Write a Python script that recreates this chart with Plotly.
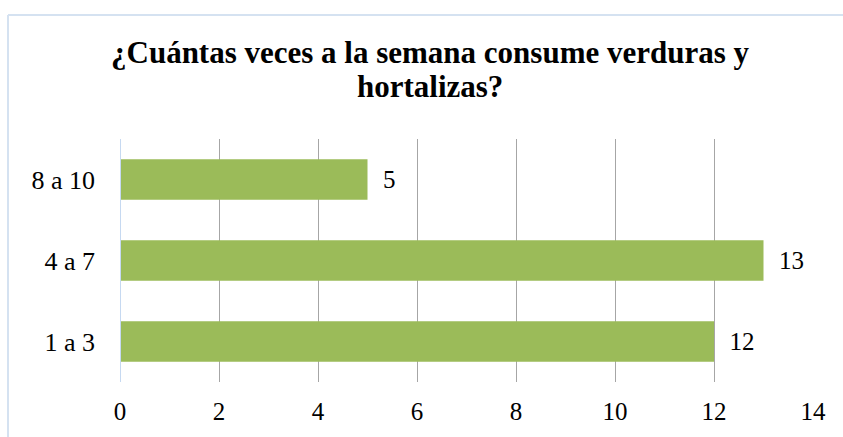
import plotly.graph_objects as go

categories = ['1 a 3', '4 a 7', '8 a 10']
values = [12, 13, 5]
x_ticks = [0, 2, 4, 6, 8, 10, 12, 14]

TITLE_LINES = ['¿Cuántas veces a la semana consume verduras y', 'hortalizas?']
FONT = 'Times New Roman, Liberation Serif, serif'

fig = go.Figure()
fig.add_trace(go.Bar(
    y=categories, x=values, orientation='h',
    marker=dict(color='#9BBB59', line=dict(width=0)),
    width=0.5,
    text=[f'\u00a0\u00a0{v}' for v in values], textposition='outside',
    textfont=dict(family=FONT, size=25, color='#000000'),
    cliponaxis=False,
))

fig.update_layout(
    width=843, height=437,
    margin=dict(l=120, r=30, t=139, b=49),
    paper_bgcolor='white', plot_bgcolor='white',
    showlegend=False,
    font=dict(family=FONT, color='#000000'),
)

# two-line title placed as annotations (tighter line spacing than title)
for line, ypos in zip(TITLE_LINES, [(388 - 50) / 249, (388 - 85) / 249]):
    fig.add_annotation(text=f'<b>{line}</b>', xref='paper', yref='paper',
                       x=(430 - 120) / 693, y=ypos, xanchor='center',
                       yanchor='middle', showarrow=False,
                       font=dict(family=FONT, size=31, color='#000000'))

fig.update_xaxes(range=[0, 14], tickvals=x_ticks, showgrid=True,
                 gridcolor='#A6A6A6', gridwidth=1, zeroline=False,
                 showline=False, tickfont=dict(family=FONT, size=25),
                 ticklabelstandoff=12)
fig.update_yaxes(showgrid=False, zeroline=False, showline=False,
                 tickfont=dict(family=FONT, size=26), ticklabelstandoff=24,
                 range=[-0.5, 2.5])

# value-axis line at 0
fig.add_shape(type='line', xref='x', yref='paper', x0=0, x1=0, y0=0, y1=1,
              line=dict(color='#C6D9F1', width=2))

# chart border (left and top edges visible)
fig.add_shape(type='line', xref='paper', yref='paper',
              x0=-112 / 693, x1=-112 / 693, y0=-0.3, y1=376 / 249,
              line=dict(color='#D5E2F1', width=2))
fig.add_shape(type='line', xref='paper', yref='paper',
              x0=-112 / 693, x1=1.1, y0=376 / 249, y1=376 / 249,
              line=dict(color='#D5E2F1', width=2))

fig.write_html('out.html', config={'displayModeBar': False},
               post_script="document.body.style.margin='0px';")
